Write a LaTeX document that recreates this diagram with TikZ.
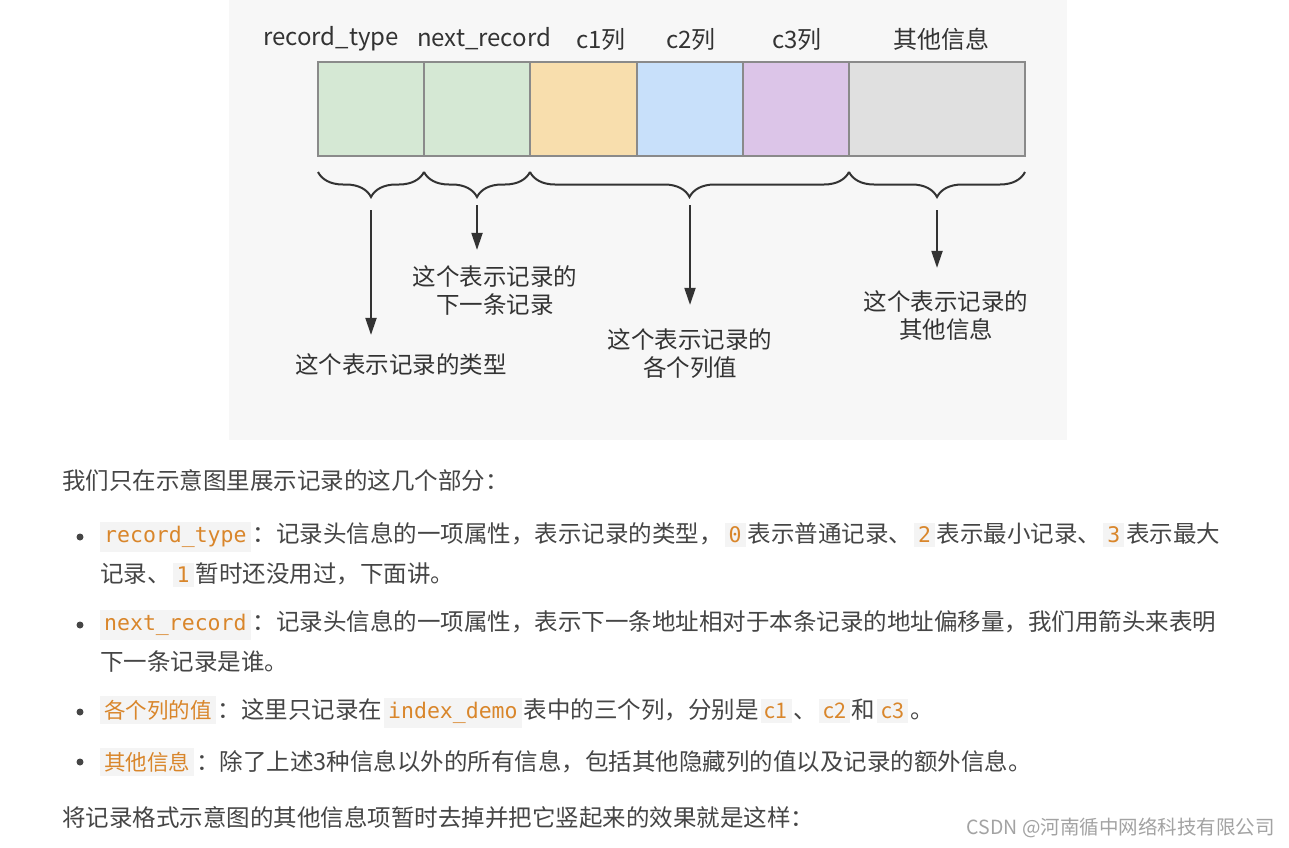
\documentclass[tikz,border=0pt]{standalone}
\usepackage{fontspec}
\setmainfont{Noto Sans CJK SC}
\setmonofont{DejaVu Sans Mono}
\usepackage{tikz}
\usetikzlibrary{arrows.meta, positioning, calc, decorations.pathreplacing}
\usepackage{xcolor}

\definecolor{panelbg}{HTML}{F7F7F7}
\definecolor{cellgreen}{HTML}{D5E8D4}
\definecolor{cellorange}{HTML}{F8DEAD}
\definecolor{cellblue}{HTML}{C8E0FA}
\definecolor{cellpurple}{HTML}{DCC5E8}
\definecolor{cellgray}{HTML}{E0E0E0}
\definecolor{cellline}{HTML}{8A8A8A}
\definecolor{inkdark}{HTML}{333333}
\definecolor{bodytext}{HTML}{454545}
\definecolor{codeor}{HTML}{D9862B}
\definecolor{codebg}{HTML}{F4F4F4}
\definecolor{wmgray}{HTML}{A3A3A3}

\newcommand{\codebox}[1]{{\setlength{\fboxsep}{4pt}\hspace{2pt}\colorbox{codebg}{\textcolor{codeor}{#1}}\hspace{2pt}}}
\newcommand{\tcode}[1]{\codebox{\ttfamily\fontsize{21.5}{24}\selectfont #1}}
\newcommand{\scode}[1]{\codebox{\fontsize{21.5}{24}\selectfont #1}}

\begin{document}
\begin{tikzpicture}[x=1pt, y=-1pt,
    cell/.style={draw=cellline, line width=1.2pt, minimum height=94pt, inner sep=0, outer sep=0},
    head/.style={text=inkdark, font=\fontsize{24}{28}\selectfont},
    note/.style={text=inkdark, align=center, inner sep=0, font=\fontsize{23.5}{28}\selectfont},
    curly/.style={draw=inkdark, line width=2pt, decorate, decoration={brace, mirror, amplitude=25pt}},
    pointer/.style={draw=inkdark, line width=2pt, -{Triangle[length=17pt, width=11pt]}},
    bodyline/.style={anchor=west, inner sep=0, text=bodytext, font=\fontsize{23.5}{28}\selectfont},
    dot/.style={circle, fill=bodytext, inner sep=0, minimum size=7pt}
]
\useasboundingbox (0,0) rectangle (1289,847);
\fill[white] (0,0) rectangle (1289,847);
\fill[panelbg] (229,0) rectangle (1067,440);

\node[cell, fill=cellgreen, minimum width=106pt, anchor=north west] (rt) at (318,62) {};
\node[cell, fill=cellgreen, minimum width=106pt, right=0pt of rt] (nr) {};
\node[cell, fill=cellorange, minimum width=107pt, right=0pt of nr] (c1) {};
\node[cell, fill=cellblue, minimum width=106pt, right=0pt of c1] (c2) {};
\node[cell, fill=cellpurple, minimum width=106pt, right=0pt of c2] (c3) {};
\node[cell, fill=cellgray, minimum width=176pt, right=0pt of c3] (oi) {};

\node[head] (hrt) at (331,39) {record\_type};
\node[head] (hnr) at (484,39) {next\_record};
\node[head] (hc1) at (601,39) {c1列};
\node[head] (hc2) at (691,39) {c2列};
\node[head] (hc3) at (797,39) {c3列};
\node[head] (hoi) at (941,39) {其他信息};

\draw[curly] ([yshift=-16pt]rt.south west) -- ([yshift=-16pt]rt.south east);
\draw[curly] ([yshift=-16pt]nr.south west) -- ([yshift=-16pt]nr.south east);
\draw[curly] ([yshift=-16pt]c1.south west) -- ([yshift=-16pt]c3.south east);
\draw[curly] ([yshift=-16pt]oi.south west) -- ([yshift=-16pt]oi.south east);

\coordinate (t1) at ($(rt.south)+(0,54)$);
\coordinate (t2) at ($(nr.south)+(0,49)$);
\coordinate (t3) at ($(c2.south)+(0,49)$);
\coordinate (t4) at ($(oi.south)+(0,54)$);

\node[note] (n1) at (401,365) {这个表示记录的类型};
\node[note] (n2) at (495,291) {这个表示记录的\\下一条记录};
\node[note] (n3) at (690,354) {这个表示记录的\\各个列值};
\node[note] (n4) at (946,316) {这个表示记录的\\其他信息};

\draw[pointer, shorten >=19pt] (t1) -- (t1 |- n1.north);
\draw[pointer, shorten >=16pt] (t2) -- (t2 |- n2.north);
\draw[pointer, shorten >=24pt] (t3) -- (t3 |- n3.north);
\draw[pointer, shorten >=23pt] (t4) -- (t4 |- n4.north);

\node[bodyline] (p0) at (62,480) {我们只在示意图里展示记录的这几个部分：};
\node[dot] (d1) at (80,537) {};
\node[bodyline] (p1a) at (98,537) {\tcode{record\_type}：记录头信息的一项属性，表示记录的类型，\tcode{0}表示普通记录、\tcode{2}表示最小记录、\tcode{3}表示最大};
\node[bodyline] (p1b) at (100,575) {记录、\tcode{1}暂时还没用过，下面讲。};
\node[dot] (d2) at (80,625) {};
\node[bodyline] (p2a) at (98,625) {\tcode{next\_record}：记录头信息的一项属性，表示下一条地址相对于本条记录的地址偏移量，我们用箭头来表明};
\node[bodyline] (p2b) at (100,662) {下一条记录是谁。};
\node[dot] (d3) at (80,712) {};
\node[bodyline] (p3) at (98,712) {\scode{各个列的值}：这里只记录在\tcode{index\_demo}表中的三个列，分别是\scode{c1}、\scode{c2}和\scode{c3}。};
\node[dot] (d4) at (80,762) {};
\node[bodyline] (p4) at (98,762) {\scode{其他信息}：除了上述3种信息以外的所有信息，包括其他隐藏列的值以及记录的额外信息。};
\node[bodyline] (p5) at (62,818) {将记录格式示意图的其他信息项暂时去掉并把它竖起来的效果就是这样：};

\node[anchor=east, inner sep=0, text=wmgray, font=\fontsize{19.5}{23}\selectfont] (wm) at (1275,828) {CSDN @河南循中网络科技有限公司};
\end{tikzpicture}
\end{document}
